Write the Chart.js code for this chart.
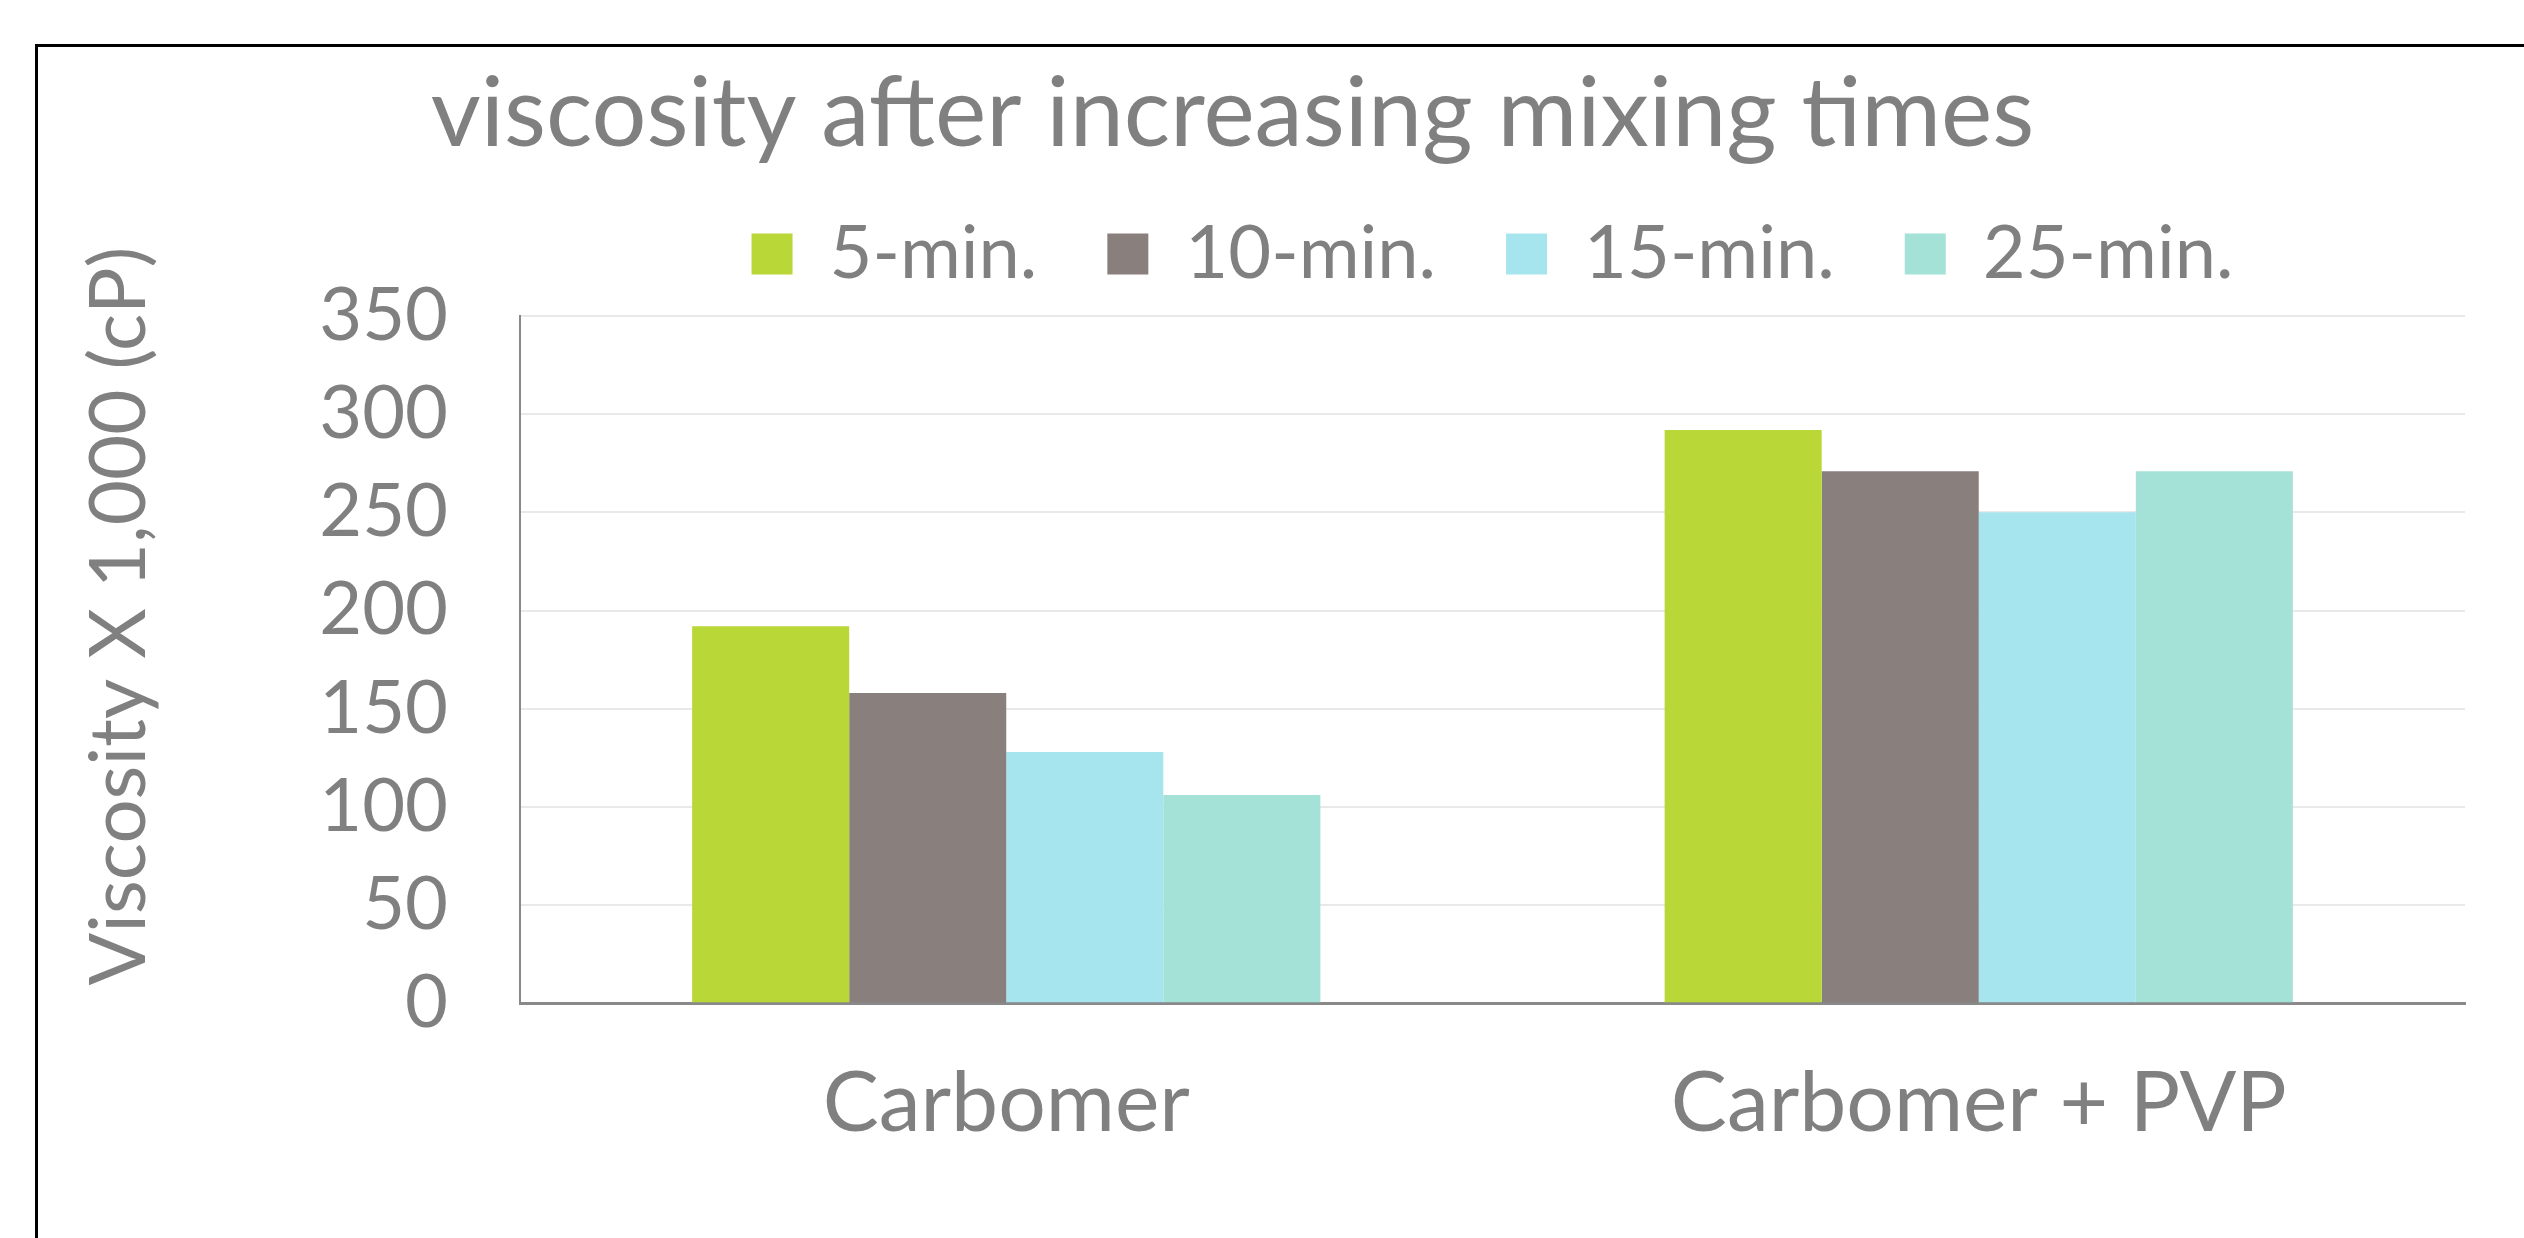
<!DOCTYPE html>
<html>
<head>
<meta charset="utf-8">
<script src="https://cdn.jsdelivr.net/npm/chart.js@4.4.1/dist/chart.umd.min.js"></script>
<style>
  html, body { margin: 0; padding: 0; background: #fff; overflow: hidden; }
  #frame { position: absolute; left: 35px; top: 44px; width: 2600px; height: 1300px; border: 3px solid #000; box-sizing: border-box; }
  #chart { position: absolute; left: 0; top: 0; }
</style>
</head>
<body>
<div id="frame"></div>
<canvas id="chart" width="2524" height="1238"></canvas>
<script>
const categories = ['Carbomer', 'Carbomer + PVP'];
const seriesNames = ['5-min.', '10-min.', '15-min.', '25-min.'];
const min5 = [192, 292];
const min10 = [158, 271];
const min15 = [128, 250];
const min25 = [106, 271];
const seriesColors = ['#b9d737', '#897f7c', '#a6e5ee', '#a4e1d7'];
const yAxisTitle = 'Viscosity X 1,000 (cP)';

const textGray = '#808080';
const fontFamily = 'Lato, "Open Sans", sans-serif';

const allValues = [min5, min10, min15, min25];

// y title sits a bit above the middle of the plot in the original, so draw it by hand
const yTitlePlugin = {
    id: 'yTitle',
    afterDraw(chart) {
        const c = chart.ctx;
        c.save();
        c.translate(120, 616);
        c.rotate(-Math.PI / 2);
        c.font = '78px ' + fontFamily;
        c.fillStyle = textGray;
        c.textAlign = 'center';
        c.textBaseline = 'middle';
        c.fillText(yAxisTitle, 0, 0);
        c.restore();
    }
};

const ctx = document.getElementById('chart');

const chart = new Chart(ctx, {
    type: 'bar',
    data: {
        labels: categories,
        datasets: allValues.map((vals, i) => ({
            label: seriesNames[i],
            data: vals,
            backgroundColor: seriesColors[i],
            borderWidth: 0
        }))
    },
    options: {
        responsive: false,
        devicePixelRatio: 1,
        animation: false,
        datasets: {
            bar: { barPercentage: 1, categoryPercentage: 0.646 }
        },
        layout: {
            padding: { left: 0, right: 59, top: 0, bottom: 34 }
        },
        plugins: {
            title: {
                display: true,
                text: 'viscosity after increasing mixing times',
                color: textGray,
                font: { family: fontFamily, size: 97, weight: 'normal', lineHeight: 0.66 },
                padding: { top: 83, bottom: 0 }
            },
            // empty spacer between legend and plot
            subtitle: {
                display: true,
                text: '',
                position: 'top',
                weight: 500,
                font: { size: 15, lineHeight: 1 },
                padding: 0
            },
            legend: {
                display: true,
                position: 'top',
                fullSize: false,
                labels: {
                    color: textGray,
                    font: { family: fontFamily, size: 74 },
                    boxWidth: 41,
                    boxHeight: 41,
                    padding: 70
                }
            },
            tooltip: { enabled: false }
        },
        scales: {
            x: {
                grid: { display: false, drawTicks: false },
                border: { color: '#898989', width: 3 },
                ticks: {
                    color: textGray,
                    font: { family: fontFamily, size: 84 },
                    padding: 50
                }
            },
            y: {
                min: 0,
                max: 350,
                afterFit: (scale) => { scale.width = 520; },
                grid: { color: '#e9e9e9', lineWidth: 2, drawTicks: false },
                border: { color: '#898989', width: 2 },
                ticks: {
                    stepSize: 50,
                    color: textGray,
                    font: { family: fontFamily, size: 74 },
                    padding: 72
                }
            }
        }
    },
    plugins: [yTitlePlugin]
});
</script>
</body>
</html>
